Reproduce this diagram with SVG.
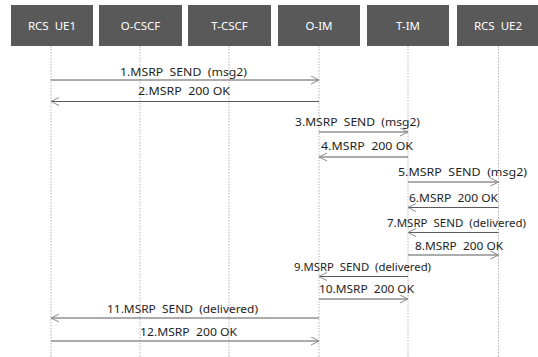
<svg xmlns="http://www.w3.org/2000/svg" width="538" height="357" viewBox="0 0 538 357">
<style>
.box{fill:#595959}
.ht{fill:#fff;font-family:"Noto Sans","Liberation Sans",sans-serif;font-size:11.5px;text-anchor:middle}
.life{stroke:#b5b5b5;stroke-width:1;stroke-dasharray:1.5 1.5}
.msg{stroke:#5a5a5a;stroke-width:1;fill:none;marker-end:url(#ah)}
.mt{fill:#1e1e1e;font-family:"Noto Sans","Liberation Sans",sans-serif;font-size:11px}
</style>
<defs>
<marker id="ah" markerUnits="userSpaceOnUse" markerWidth="10" markerHeight="10" refX="9" refY="4.5" orient="auto">
<path d="M1,0.5 L9,4.5 L1,8.5" fill="none" stroke="#8a8a8a" stroke-width="1"/>
</marker>
</defs>
<rect width="538" height="357" fill="#fff"/>
<g id="ue1"><rect class="box" x="11" y="5" width="82" height="41"/><text class="ht" x="52" y="30" xml:space="preserve">RCS  UE1</text><line class="life" x1="51" y1="46" x2="51" y2="357"/></g>
<g id="ocscf"><rect class="box" x="99" y="5" width="83" height="41"/><text class="ht" x="140.5" y="30">O-CSCF</text><line class="life" x1="140" y1="46" x2="140" y2="357"/></g>
<g id="tcscf"><rect class="box" x="188" y="5" width="83" height="41"/><text class="ht" x="229.5" y="30">T-CSCF</text><line class="life" x1="229" y1="46" x2="229" y2="357"/></g>
<g id="oim"><rect class="box" x="278" y="5" width="82" height="41"/><text class="ht" x="319" y="30">O-IM</text><line class="life" x1="319" y1="46" x2="319" y2="357"/></g>
<g id="tim"><rect class="box" x="367" y="5" width="82" height="41"/><text class="ht" x="408" y="30">T-IM</text><line class="life" x1="408" y1="46" x2="408" y2="357"/></g>
<g id="ue2"><rect class="box" x="457" y="5" width="81" height="41"/><text class="ht" x="498" y="30" xml:space="preserve">RCS  UE2</text><line class="life" x1="498.5" y1="46" x2="498.5" y2="357"/></g>
<g id="connectors">
<line class="msg" x1="51" y1="80" x2="319" y2="80"/>
<line class="msg" x1="319" y1="101.5" x2="51" y2="101.5"/>
<line class="msg" x1="319" y1="132" x2="408" y2="132"/>
<line class="msg" x1="408" y1="157" x2="319" y2="157"/>
<line class="msg" x1="408" y1="182" x2="498.5" y2="182"/>
<line class="msg" x1="498.5" y1="207.5" x2="408" y2="207.5"/>
<line class="msg" x1="498.5" y1="232.5" x2="408" y2="232.5"/>
<line class="msg" x1="408" y1="255" x2="498.5" y2="255"/>
<line class="msg" x1="408" y1="276.5" x2="319" y2="276.5"/>
<line class="msg" x1="319" y1="299" x2="408" y2="299"/>
<line class="msg" x1="319" y1="318" x2="51" y2="318"/>
<line class="msg" x1="51" y1="341" x2="319" y2="341"/>
</g>
<g id="labels">
<text class="mt" x="120" y="76" textLength="127" lengthAdjust="spacingAndGlyphs" xml:space="preserve">1.MSRP  SEND  (msg2)</text>
<text class="mt" x="138" y="94.5" textLength="92" lengthAdjust="spacingAndGlyphs" xml:space="preserve">2.MSRP  200 OK</text>
<text class="mt" x="295" y="126" textLength="125" lengthAdjust="spacingAndGlyphs" xml:space="preserve">3.MSRP  SEND  (msg2)</text>
<text class="mt" x="321" y="149.5" textLength="92" lengthAdjust="spacingAndGlyphs" xml:space="preserve">4.MSRP  200 OK</text>
<text class="mt" x="398" y="175.5" textLength="129" lengthAdjust="spacingAndGlyphs" xml:space="preserve">5.MSRP  SEND  (msg2)</text>
<text class="mt" x="409" y="202" textLength="89" lengthAdjust="spacingAndGlyphs" xml:space="preserve">6.MSRP  200 OK</text>
<text class="mt" x="387" y="227" textLength="139" lengthAdjust="spacingAndGlyphs" xml:space="preserve">7.MSRP  SEND  (delivered)</text>
<text class="mt" x="415" y="249.5" textLength="88" lengthAdjust="spacingAndGlyphs" xml:space="preserve">8.MSRP  200 OK</text>
<text class="mt" x="294" y="271" textLength="137" lengthAdjust="spacingAndGlyphs" xml:space="preserve">9.MSRP  SEND  (delivered)</text>
<text class="mt" x="319" y="293" textLength="95" lengthAdjust="spacingAndGlyphs" xml:space="preserve">10.MSRP  200 OK</text>
<text class="mt" x="107" y="313" textLength="151" lengthAdjust="spacingAndGlyphs" xml:space="preserve">11.MSRP  SEND  (delivered)</text>
<text class="mt" x="140" y="335.5" textLength="97" lengthAdjust="spacingAndGlyphs" xml:space="preserve">12.MSRP  200 OK</text>
</g>
</svg>
